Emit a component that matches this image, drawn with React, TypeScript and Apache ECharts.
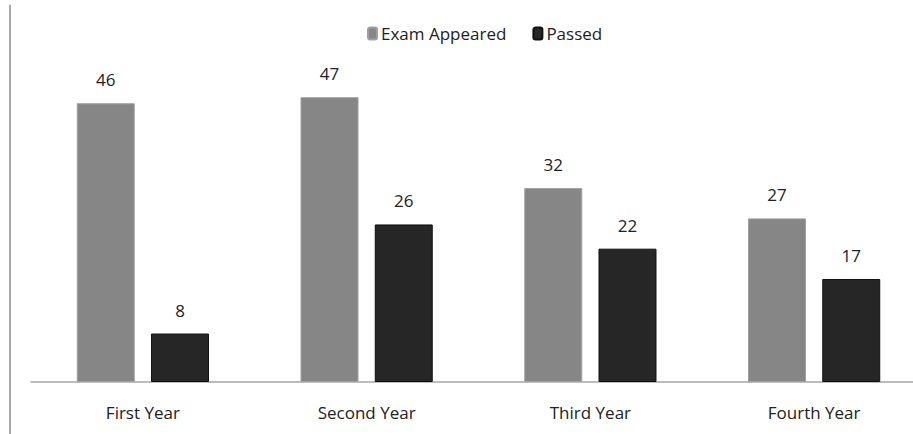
import React, { useEffect, useRef } from "react";
import * as echarts from "echarts";

const categories = ["First Year", "Second Year", "Third Year", "Fourth Year"];
const examAppeared = [46, 47, 32, 27];
const passed = [8, 26, 22, 17];
const seriesNames = ["Exam Appeared", "Passed"];

const FONT = "'Open Sans', 'Noto Sans', sans-serif";

export default function App() {
  const ref = useRef<HTMLDivElement>(null);
  useEffect(() => {
    if (!ref.current) return;
    const chart = echarts.init(ref.current, undefined, { renderer: "svg" });
    chart.setOption({
      animation: false,
      backgroundColor: "#ffffff",
      textStyle: { fontFamily: FONT },
      legend: {
        left: 362,
        top: 20,
        itemWidth: 9,
        itemHeight: 12,
        itemGap: 26,
        textStyle: { fontFamily: FONT, fontSize: 17, color: "#222", padding: [0, 0, 0, -1] },
        data: seriesNames,
      },
      grid: { left: 31, top: 79, width: 895, height: 303, containLabel: false },
      xAxis: {
        type: "category",
        data: categories,
        axisLine: { show: true, lineStyle: { color: "#a6a6a6", width: 1.5 } },
        axisTick: { show: false },
        axisLabel: { color: "#222", fontFamily: FONT, fontSize: 17, margin: 22 },
      },
      yAxis: {
        type: "value",
        min: 0,
        max: 50,
        show: false,
        splitLine: { show: false },
      },
      series: [
        {
          name: seriesNames[0],
          type: "bar",
          data: examAppeared,
          barWidth: 58,
          barGap: "28%",
          itemStyle: { color: "#868686", borderColor: "#a0a0a0", borderWidth: 1 },
          label: { show: true, position: "top", distance: 15, color: "#222", fontFamily: FONT, fontSize: 17 },
        },
        {
          name: seriesNames[1],
          type: "bar",
          data: passed,
          barWidth: 58,
          itemStyle: { color: "#262626", borderColor: "#111111", borderWidth: 1 },
          label: { show: true, position: "top", distance: 15, color: "#222", fontFamily: FONT, fontSize: 17 },
        },
      ],
      graphic: [
        {
          type: "line",
          shape: { x1: 10, y1: 5, x2: 10, y2: 434 },
          style: { stroke: "#8c8c8c", lineWidth: 1.5 },
        },
      ],
    });
    return () => chart.dispose();
  }, []);
  return (
    <div style={{ position: "fixed", left: 0, top: 0, width: 913, height: 434, overflow: "hidden", background: "#fff" }}>
      <div ref={ref} style={{ width: 940, height: 434 }} />
    </div>
  );
}
